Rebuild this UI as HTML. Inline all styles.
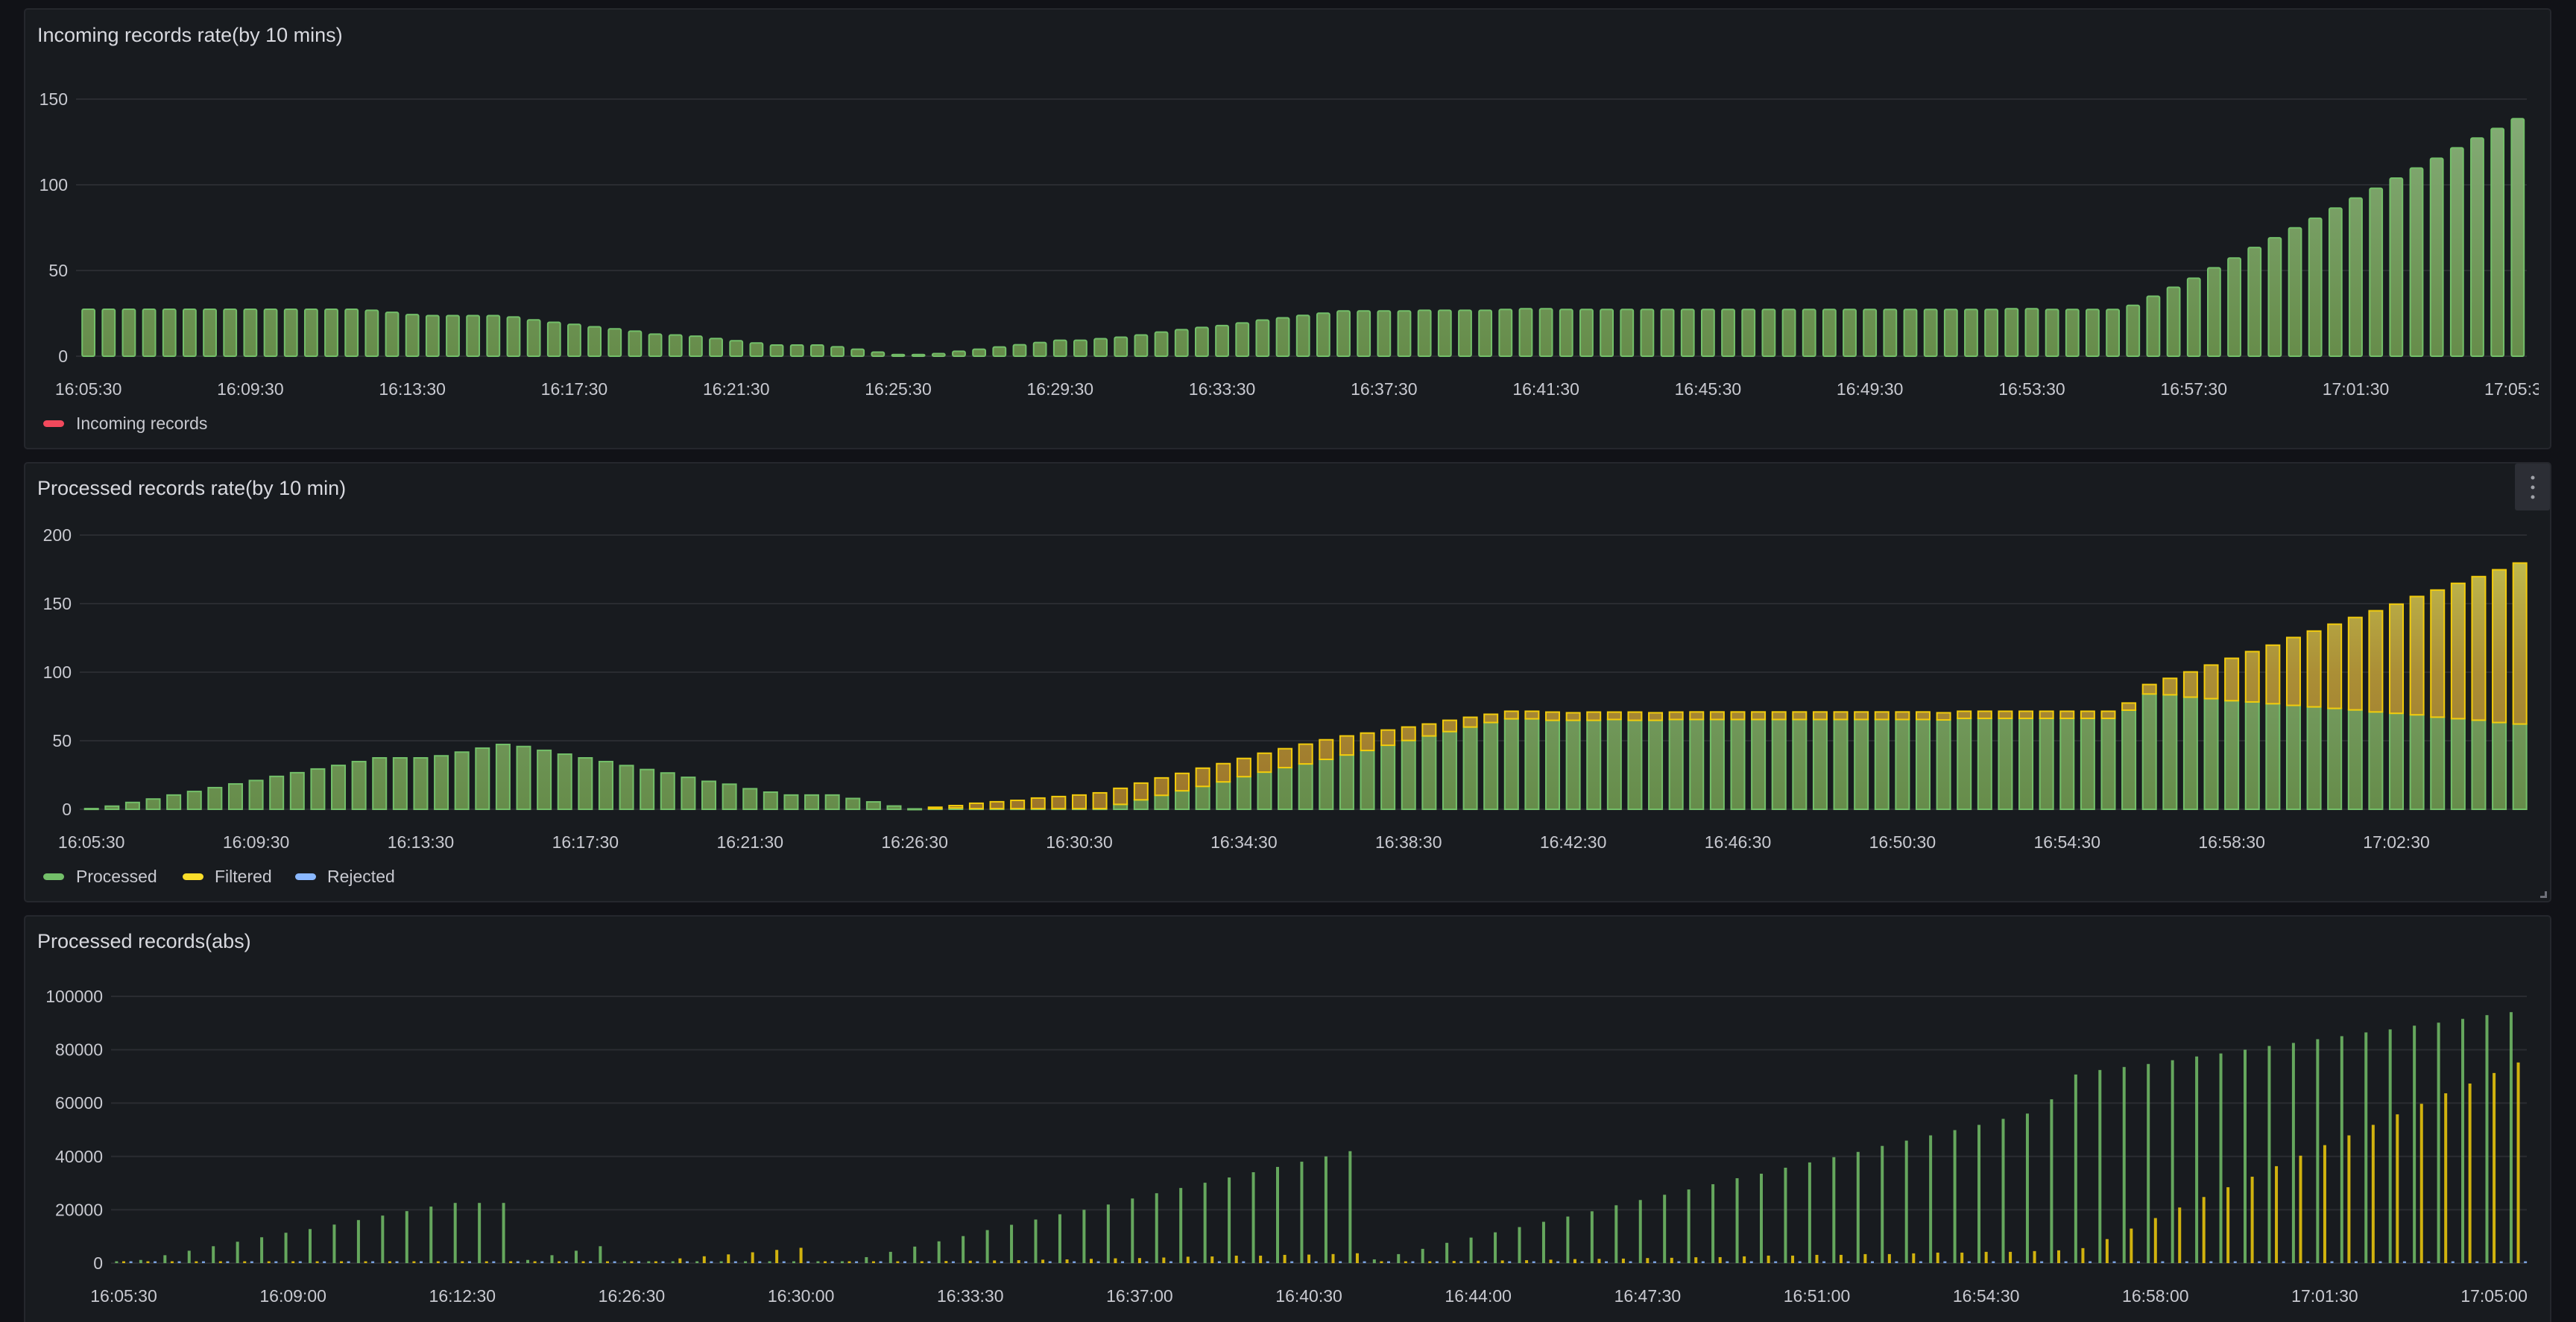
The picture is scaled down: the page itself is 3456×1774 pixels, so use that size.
<!DOCTYPE html>
<html><head><meta charset="utf-8"><style>
html,body{margin:0;padding:0;background:#111217;}
svg{display:block;font-family:"Liberation Sans",sans-serif;}
.t{fill:#d8d9df;font-size:27px;}
.tk{fill:#c8c9d0;font-size:23px;}
.lg{fill:#c8c9d0;font-size:23px;}
</style></head><body>
<svg id="root" width="3456" height="1774" viewBox="0 0 3456 1774" xmlns="http://www.w3.org/2000/svg">
<defs>
<linearGradient id="g1" gradientUnits="userSpaceOnUse" x1="0" y1="478" x2="0" y2="133"><stop offset="0" stop-color="#668c4a"/><stop offset="1" stop-color="#86ae79"/></linearGradient>
<linearGradient id="g2" gradientUnits="userSpaceOnUse" x1="0" y1="1086" x2="0" y2="718"><stop offset="0" stop-color="#668c4a"/><stop offset="1" stop-color="#86ae79"/></linearGradient>
<linearGradient id="y2" gradientUnits="userSpaceOnUse" x1="0" y1="1086" x2="0" y2="718"><stop offset="0" stop-color="#9c742a"/><stop offset="0.5" stop-color="#ab8f36"/><stop offset="1" stop-color="#c4c352"/></linearGradient>
<clipPath id="c1"><rect x="33" y="11" width="3373" height="592"/></clipPath>
</defs>
<rect x="33" y="12" width="3389" height="590" rx="4" fill="#181b1f" stroke="#25272d" stroke-width="2"/>
<rect x="33" y="621" width="3389" height="589" rx="4" fill="#181b1f" stroke="#25272d" stroke-width="2"/>
<rect x="33" y="1229" width="3389" height="560" rx="4" fill="#181b1f" stroke="#25272d" stroke-width="2"/>
<text class="t" x="50" y="56">Incoming records rate(by 10 mins)</text>
<text class="t" x="50" y="664">Processed records rate(by 10 min)</text>
<text class="t" x="50" y="1272">Processed records(abs)</text>
<rect x="58" y="564" width="28" height="9" rx="4.5" fill="#f2495c"/>
<text class="lg" x="102" y="576">Incoming records</text>
<rect x="58" y="1172" width="28" height="9" rx="4.5" fill="#73bf69"/>
<text class="lg" x="102" y="1184">Processed</text>
<rect x="245" y="1172" width="28" height="9" rx="4.5" fill="#fade2a"/>
<text class="lg" x="288" y="1184">Filtered</text>
<rect x="396" y="1172" width="28" height="9" rx="4.5" fill="#8ab8ff"/>
<text class="lg" x="439" y="1184">Rejected</text>
<g>
<rect x="3374" y="622" width="47" height="63" rx="3" fill="#2c2e35"/>
<circle cx="3398" cy="641" r="2.5" fill="#9fa1a8"/><circle cx="3398" cy="654" r="2.5" fill="#9fa1a8"/><circle cx="3398" cy="667" r="2.5" fill="#9fa1a8"/>
</g>
<path d="M3417 1196 L3417 1205 L3408 1205 L3408 1202 L3414 1202 L3414 1196 Z" fill="#6e7079"/>
<g id="layer"></g>
</svg>
<script>
const p1Labels=["16:05:30","16:09:30","16:13:30","16:17:30","16:21:30","16:25:30","16:29:30","16:33:30","16:37:30","16:41:30","16:45:30","16:49:30","16:53:30","16:57:30","17:01:30","17:05:30"];
const p1Ticks=[0,50,100,150];
const p1Values=[27.4,27.4,27.4,27.4,27.4,27.4,27.4,27.4,27.4,27.4,27.4,27.4,27.4,27.4,26.8,25.6,24.3,23.7,23.7,23.7,23.7,22.9,21.2,19.8,18.6,17.2,16,14.6,12.9,12.4,11.7,10.3,9,7.7,6.5,6.5,6.5,5.5,4.1,2.4,1.0,1.0,1.5,2.9,4.1,5.4,6.7,8.0,9.3,9.3,10.2,11.1,12.4,14.1,15.5,16.8,17.9,19.4,21.1,22.4,23.8,25.1,26.4,26.4,26.4,26.4,26.8,26.8,26.8,26.8,27.3,27.7,27.7,27.3,27.3,27.3,27.3,27.3,27.3,27.3,27.3,27.3,27.3,27.3,27.3,27.3,27.3,27.3,27.3,27.3,27.3,27.3,27.3,27.3,27.3,27.7,27.7,27.3,27.3,27.3,27.3,29.7,35,40.2,45.5,51.6,57.3,63.4,69.1,74.9,80.5,86.4,92.3,98,103.9,109.8,115.5,121.6,127.3,132.9,138.6];

const p2Labels=["16:05:30","16:09:30","16:13:30","16:17:30","16:21:30","16:26:30","16:30:30","16:34:30","16:38:30","16:42:30","16:46:30","16:50:30","16:54:30","16:58:30","17:02:30"];
const p2Ticks=[0,50,100,150,200];
const p2Processed=[0.5,2.3,5,7.5,10.4,13,15.8,18.5,21,24,26.7,29.4,32,34.8,37.5,37.5,37.5,39,41.7,44.6,47.3,45.8,43,40.2,37.5,34.8,31.9,29,26.5,23.3,20.4,18.3,15,12.5,10.4,10.4,10.4,7.9,5.4,2.4,0.3,0.5,1,0.5,0.5,0.5,0.5,0.5,0.5,0.5,3.6,6.9,10.2,13.5,16.7,20,23.8,27.1,30.4,33.1,36.4,39.6,42.9,46.7,50.2,53.5,56.7,60,63.3,66,66,64.9,64.9,64.9,65.5,64.9,64.9,65.5,65.5,65.5,65.5,65.5,65.5,65.5,65.5,65.5,65.5,65.5,65.5,65.5,65.2,66.3,66.3,66.3,66.3,66.3,66.3,66.3,66.3,72.3,84.1,83.5,81.8,80.7,79.2,78.3,77,75.8,74.7,73.6,72.5,71,70,68.9,67.2,66.1,65,63.3,62.2];
const p2Filtered=[0,0,0,0,0,0,0,0,0,0,0,0,0,0,0,0,0,0,0,0,0,0,0,0,0,0,0,0,0,0,0,0,0,0,0,0,0,0,0,0,0,1,1.7,3.9,5,6,7.7,8.8,9.9,11.5,11.7,12.2,12.7,12.7,13.3,13.3,13.3,13.8,13.8,14.4,14.3,13.9,12.7,11.1,9.8,8.7,8.2,7.1,6,5.5,5.5,6,5.5,6,5.4,6,5.5,5.4,5.5,5.5,5.5,5.5,5.5,5.5,5.5,5.5,5.5,5.5,5.5,5.5,5.2,5.2,5.2,5.2,5.2,5.2,5.2,5.2,5.2,5.2,6.9,12,18.4,24.5,30.9,36.7,42.7,49.5,55.3,61.4,67.4,73.8,79.6,86.3,92.7,98.7,104.7,111.4,117.4];

const p3Labels=["16:05:30","16:09:00","16:12:30","16:26:30","16:30:00","16:33:30","16:37:00","16:40:30","16:44:00","16:47:30","16:51:00","16:54:30","16:58:00","17:01:30","17:05:00"];
const p3Ticks=[0,20000,40000,60000,80000,100000];
const p3Processed=[0,1190,2970,4650,6340,8020,9700,11390,12770,14450,16140,17820,19500,21190,22570,22570,22570,1190,2970,4650,6340,0,0,0,0,0,0,0,0,0,300,2250,4230,6200,8170,10140,12390,14370,16340,18310,20000,21970,24230,26200,28170,30140,32110,34080,36060,38030,40000,41970,1410,3380,5350,7610,9580,11550,13520,15490,17460,19440,21690,23660,25630,27610,29580,31830,33520,35770,37750,39720,41690,43940,45920,47890,49860,51830,54080,56060,61410,70700,72390,73520,74650,76060,77460,78590,80000,81410,82540,83940,85070,86480,87610,89010,90140,91550,92960,94080];
const p3Filtered=[0,0,0,0,0,0,0,0,0,0,0,0,0,0,0,0,0,0,0,0,0,0,600,1780,2570,3270,4060,4950,5740,0,300,500,300,500,800,900,1000,1100,1300,1400,1600,1800,1900,2100,2400,2500,2800,2800,3100,3200,3400,3700,300,300,500,800,900,1000,1100,1300,1500,1600,1700,1900,2000,2200,2250,2540,2820,2820,3100,3100,3380,3380,3660,3940,3940,4230,4230,4510,4790,5630,9010,12960,16900,20850,24790,28450,32390,36340,40280,44230,47890,51830,55770,59720,63660,67320,71270,75210];
const p3Rejected=new Array(100).fill(0);

const NS="http://www.w3.org/2000/svg";
const layer=document.getElementById('layer');
function el(tag,parent){const e=document.createElementNS(NS,tag);(parent||layer).appendChild(e);return e;}
function lin(d0,d1,r0,r1){return v=>r0+(v-d0)*(r1-r0)/(d1-d0);}

/* ---------- Panel 1 ---------- */
const y1=lin(0,150,478,133);
const x1=i=>118.6+i*27.16;
p1Ticks.forEach(t=>{
  const g=el('line');g.setAttribute('x1',102);g.setAttribute('x2',3390);g.setAttribute('y1',y1(t));g.setAttribute('y2',y1(t));g.setAttribute('stroke','#2a2c31');g.setAttribute('stroke-width',2);
  
  
  const tx=el('text');tx.setAttribute('class','tk');tx.setAttribute('x',91);tx.setAttribute('y',y1(t)+8);tx.setAttribute('text-anchor','end');tx.textContent=t;
  
  
});
p1Values.forEach((v,i)=>{
  const w=16.8,top=y1(v),b=y1(0);
  const r=el('rect');r.setAttribute('x',x1(i)-w/2);r.setAttribute('y',top);r.setAttribute('width',w);r.setAttribute('height',Math.max(b-top,1));
  r.setAttribute('fill','url(#g1)');r.setAttribute('stroke','#73bf69');r.setAttribute('stroke-width',2);r.setAttribute('rx',2);
  
  
});
const p1xg=el('g');p1xg.setAttribute('clip-path','url(#c1)');
p1Labels.forEach((l,k)=>{
  const tx=el('text',p1xg);tx.setAttribute('class','tk');tx.setAttribute('x',x1(k*8));tx.setAttribute('y',530);tx.setAttribute('text-anchor','middle');tx.textContent=l;
  
  
});

/* ---------- Panel 2 ---------- */
const y2=lin(0,200,1086,718);
const x2=i=>122.7+i*27.61;
p2Ticks.forEach(t=>{
  const g=el('line');g.setAttribute('x1',107);g.setAttribute('x2',3390);g.setAttribute('y1',y2(t));g.setAttribute('y2',y2(t));g.setAttribute('stroke','#2a2c31');g.setAttribute('stroke-width',2);
  
  
  const tx=el('text');tx.setAttribute('class','tk');tx.setAttribute('x',96);tx.setAttribute('y',y2(t)+8);tx.setAttribute('text-anchor','end');tx.textContent=t;
  
  
});
p2Processed.forEach((v,i)=>{
  const w=18,b=y2(0),tp=y2(v);
  const r=el('rect');r.setAttribute('x',x2(i)-w/2);r.setAttribute('y',tp);r.setAttribute('width',w);r.setAttribute('height',Math.max(b-tp,1));
  r.setAttribute('fill','url(#g2)');r.setAttribute('stroke','#73bf69');r.setAttribute('stroke-width',2);
  
  
  const f=p2Filtered[i];
  if(f>0){
    const ft=y2(v+f);
    const q=el('rect');q.setAttribute('x',x2(i)-w/2);q.setAttribute('y',ft);q.setAttribute('width',w);q.setAttribute('height',tp-ft);
    q.setAttribute('fill','url(#y2)');q.setAttribute('stroke','#f2cc0c');q.setAttribute('stroke-width',2);
    
    
  }
});
p2Labels.forEach((l,k)=>{
  const tx=el('text');tx.setAttribute('class','tk');tx.setAttribute('x',x2(k*8));tx.setAttribute('y',1138);tx.setAttribute('text-anchor','middle');tx.textContent=l;
  
  
});

/* ---------- Panel 3 ---------- */
const y3=lin(0,100000,1695,1337);
const x3=i=>166+i*32.45;
p3Ticks.forEach(t=>{
  const g=el('line');g.setAttribute('x1',149);g.setAttribute('x2',3390);g.setAttribute('y1',y3(t));g.setAttribute('y2',y3(t));g.setAttribute('stroke','#2a2c31');g.setAttribute('stroke-width',2);
  
  
  const tx=el('text');tx.setAttribute('class','tk');tx.setAttribute('x',138);tx.setAttribute('y',y3(t)+8);tx.setAttribute('text-anchor','end');tx.textContent=t;
  
  
});
function absBar(cx,v,col,name){
  const b=y3(0),tp=y3(v),h=Math.max(b-tp,2.5);
  const r=el('rect');r.setAttribute('x',cx-2);r.setAttribute('y',b-h);r.setAttribute('width',4);r.setAttribute('height',h);
  r.setAttribute('fill',col);r.setAttribute('fill-opacity',0.85);
  
  
}
p3Processed.forEach((v,i)=>{
  absBar(x3(i)-9.6,v,'#73bf69','processed-abs-bar');
  absBar(x3(i),p3Filtered[i],'#f2cc0c','filtered-abs-bar');
  absBar(x3(i)+9.6,p3Rejected[i],'#8ab8ff','rejected-abs-bar');
});
p3Labels.forEach((l,k)=>{
  const tx=el('text');tx.setAttribute('class','tk');tx.setAttribute('x',x3(k*7));tx.setAttribute('y',1747);tx.setAttribute('text-anchor','middle');tx.textContent=l;
  
  
});
</script>
</body></html>
